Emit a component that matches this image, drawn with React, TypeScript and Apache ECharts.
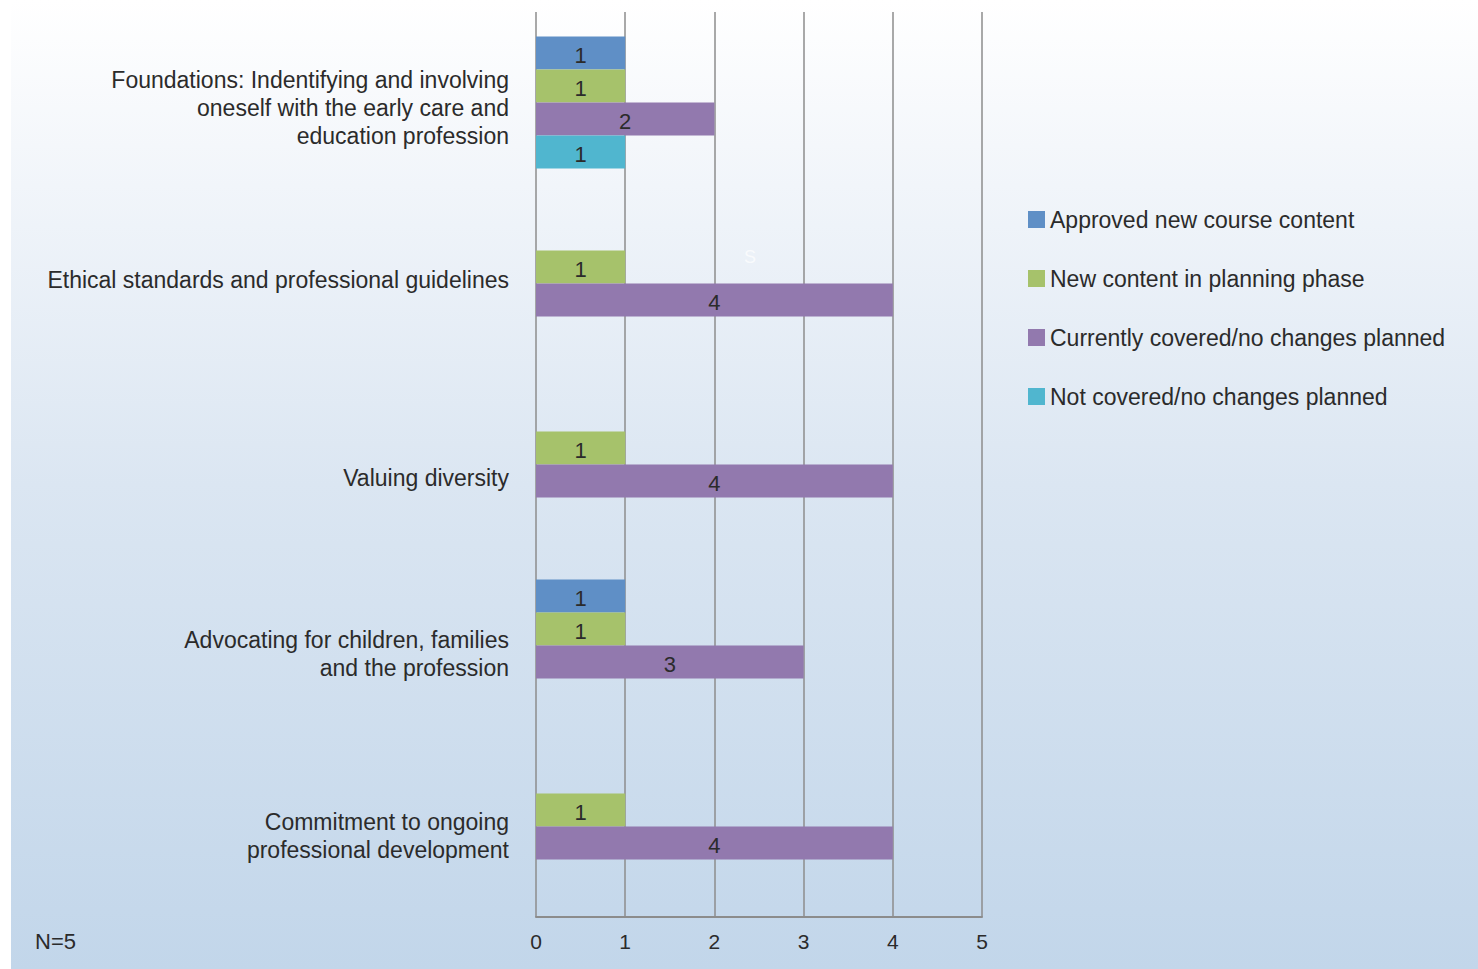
import React, { useEffect, useRef } from "react";
import * as echarts from "echarts";

const categories = [
  "Foundations: Indentifying and involving\noneself with the early care and\neducation profession",
  "Ethical standards and professional guidelines",
  "Valuing diversity",
  "Advocating for children, families\nand the profession",
  "Commitment to ongoing\nprofessional development",
];

const seriesNames = [
  "Approved new course content",
  "New content in planning phase",
  "Currently covered/no changes planned",
  "Not covered/no changes planned",
];

const approved = [1, null, null, 1, null];
const planning = [1, 1, 1, 1, 1];
const covered = [2, 4, 4, 3, 4];
const notCovered = [1, null, null, null, null];

const xTicks = [0, 1, 2, 3, 4, 5];

// vertical nudge of each category label (layout only)
const labelShift = [5, -4, 13, 8, 9];

const colors = ["#5f8fc6", "#a6c26b", "#9279ae", "#50b6cf"];

const FONT = "'Liberation Sans', Arial, sans-serif";
const TEXT = "#2b2b2b";

export default function App() {
  const ref = useRef<HTMLDivElement>(null);
  useEffect(() => {
    if (!ref.current) return;
    const chart = echarts.init(ref.current, undefined, { renderer: "svg" });
    const datasets = [approved, planning, covered, notCovered];
    const rich: Record<string, any> = {
      t: { fontSize: 23, lineHeight: 28, color: TEXT, fontFamily: FONT, align: "right" },
    };
    labelShift.forEach((d, i) => {
      const h = Math.max(1, Math.abs(d) * 2);
      rich["g" + i] = { fontSize: 1, height: h, lineHeight: h, align: "right" };
    });
    chart.setOption({
      animation: false,
      backgroundColor: "#ffffff",
      textStyle: { fontFamily: FONT },
      graphic: [
        {
          type: "rect",
          z: -10,
          shape: { x: 11, y: 0, width: 1467, height: 969 },
          style: {
            fill: new echarts.graphic.LinearGradient(0, 0, 0, 1, [
              { offset: 0, color: "#ffffff" },
              { offset: 0.15, color: "#f4f7fb" },
              { offset: 0.5, color: "#dbe6f2" },
              { offset: 1, color: "#c2d6ea" },
            ]),
          },
          silent: true,
        },
        {
          type: "text",
          left: 35,
          top: 930,
          style: { text: "N=5", fill: TEXT, font: `22px ${FONT}` },
        },
        {
          type: "text",
          left: 744,
          top: 248,
          style: { text: "S", fill: "rgba(255,255,255,0.7)", font: `18px ${FONT}` },
        },
      ],
      grid: { left: 536, right: 496, top: 12, bottom: 52 },
      legend: {
        orient: "vertical",
        left: 1023,
        top: 203,
        itemWidth: 17,
        itemHeight: 17,
        itemGap: 36,
        icon: "rect",
        data: seriesNames,
        textStyle: { fontSize: 23, color: TEXT, fontFamily: FONT },
      },
      xAxis: {
        type: "value",
        min: xTicks[0],
        max: xTicks[xTicks.length - 1],
        interval: 1,
        axisLine: { show: true, lineStyle: { color: "#8c8c8c", width: 2 } },
        axisTick: { show: false },
        splitLine: { show: true, lineStyle: { color: "#8c8c8c", width: 1.5 } },
        axisLabel: { color: TEXT, fontSize: 21, margin: 14, fontFamily: FONT },
      },
      yAxis: {
        type: "category",
        inverse: true,
        data: categories,
        axisLine: { show: false },
        axisTick: { show: false },
        axisLabel: {
          color: TEXT,
          fontSize: 23,
          lineHeight: 28,
          margin: 27,
          align: "right",
          fontFamily: FONT,
          rich,
          formatter: (value: string, idx: number) => {
            const lines = value
              .split("\n")
              .map((l) => `{t|${l}}`)
              .join("\n");
            const d = labelShift[idx] || 0;
            return d >= 0 ? `{g${idx}| }\n${lines}` : `${lines}\n{g${idx}| }`;
          },
        },
      },
      series: datasets.map((d, i) => ({
        name: seriesNames[i],
        type: "bar",
        data: d,
        barWidth: 33,
        barGap: "0%",
        itemStyle: { color: colors[i] },
        label: {
          show: true,
          position: "inside",
          offset: [0, 2],
          color: TEXT,
          fontSize: 22,
          fontFamily: FONT,
        },
      })),
    });
    return () => chart.dispose();
  }, []);
  return (
    <div
      ref={ref}
      style={{ position: "absolute", left: 0, top: 0, width: 1478, height: 969 }}
    />
  );
}
